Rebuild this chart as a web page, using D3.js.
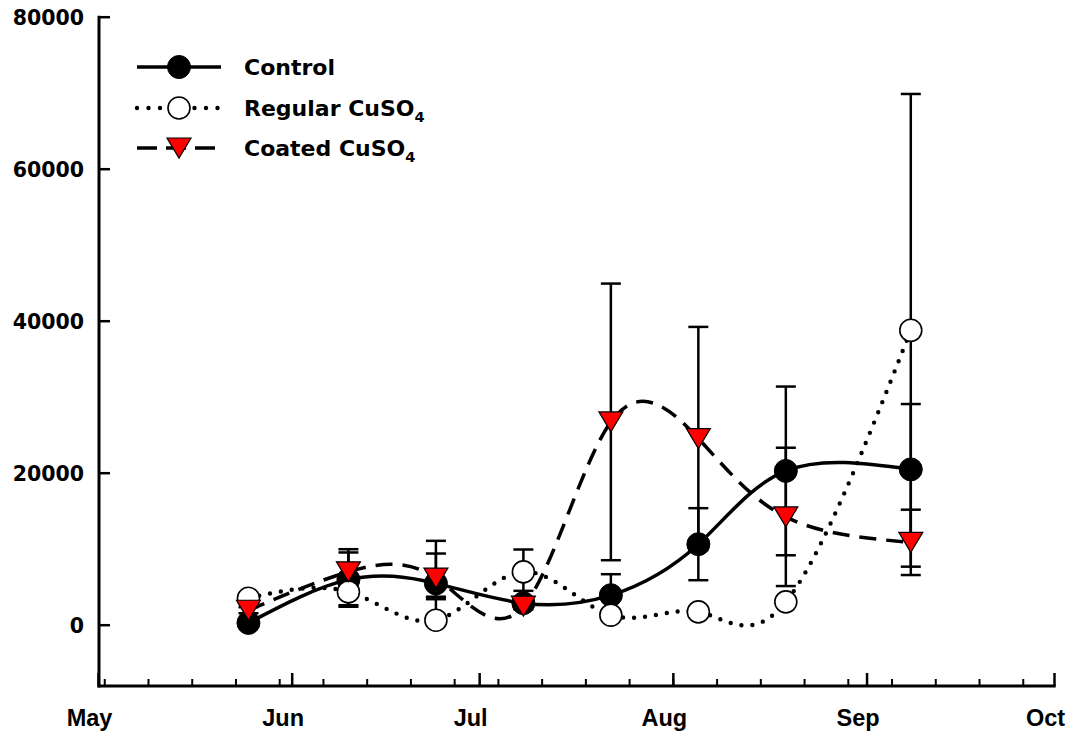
<!DOCTYPE html>
<html>
<head>
<meta charset="utf-8">
<script src="https://cdn.jsdelivr.net/npm/d3@7"></script>
<style>
  html, body { margin: 0; padding: 0; background: #fff; }
  svg { display: block; }
</style>
</head>
<body>
<svg id="chart" width="1079" height="734"></svg>
<script>
// Sampling dates (every two weeks, last one after 20 days)
const sampleDates = ["2010-05-25", "2010-06-10", "2010-06-24", "2010-07-08",
                     "2010-07-22", "2010-08-05", "2010-08-19", "2010-09-08"];

// Mean values per treatment
const controlMean = [300, 6000, 5500, 2900, 3950, 10660, 20300, 20500];
const regularMean = [3550, 4380, 660, 7020, 1320, 1750, 3070, 38800];
const coatedMean  = [1970, 7020, 6200, 2500, 26750, 24560, 14250, 10900];

// Error bar extents above / below each mean
const controlErrUp   = [400, 3570, 3930, 500, 2760, 4740, 11100, 8600];
const controlErrDown = [400, 3570, 1780, 500, 2760, 4740, 11100, 8600];
const regularErrUp   = [450, 1750, 3060, 2940, 300, 300, 400, 31100];
const regularErrDown = [450, 1750, 400, 2500, 300, 300, 400, 31100];
const coatedErrUp    = [400, 2980, 4900, 400, 18200, 14690, 9100, 4300];
const coatedErrDown  = [400, 2980, 2780, 400, 18200, 14690, 9100, 4300];

// Axis ticks
const yTickValues = [0, 20000, 40000, 60000, 80000];
const monthTickDates = ["2010-05-01", "2010-06-01", "2010-07-01", "2010-08-01", "2010-09-01", "2010-10-01"];
const monthTickLabels = ["May", "Jun", "Jul", "Aug", "Sep", "Oct"];

const seriesNames = ["Control", "Regular CuSO", "Coated CuSO"];
const seriesSubs  = ["", "4", "4"];

const parse = d3.timeParse("%Y-%m-%d");
const dates = sampleDates.map(parse);

const svg = d3.select("#chart");

const x = d3.scaleTime()
  .domain([parse("2010-05-01"), parse("2010-10-01")])
  .range([98.5, 1054.5]);
const y = d3.scaleLinear()
  .domain([-8000, 80000])
  .range([686, 17.2]);

const series = [
  { name: "control", mean: controlMean, up: controlErrUp, down: controlErrDown,
    marker: "filled", dash: null, width: 3.5 },
  { name: "regular", mean: regularMean, up: regularErrUp, down: regularErrDown,
    marker: "open", dash: "0,11", width: 4.4 },
  { name: "coated", mean: coatedMean, up: coatedErrUp, down: coatedErrDown,
    marker: "triangle", dash: "17,10", width: 3.5 }
];

// ---- axes ----
const axisG = svg.append("g");
// Y axis
axisG.append("line")
  .attr("x1", 99).attr("x2", 99)
  .attr("y1", y(80000) - 1.5).attr("y2", 687.5)
  .attr("stroke", "#000").attr("stroke-width", 3);
axisG.selectAll(".ytick").data(yTickValues).enter().append("line")
  .attr("x1", 99).attr("x2", 110)
  .attr("y1", d => y(d)).attr("y2", d => y(d))
  .attr("stroke", "#000").attr("stroke-width", 2.5);
axisG.selectAll(".ylab").data(yTickValues).enter().append("text")
  .attr("x", 84).attr("y", d => y(d) + 7.5)
  .attr("text-anchor", "end")
  .attr("font-family", "DejaVu Sans, sans-serif")
  .attr("font-weight", "bold")
  .attr("font-size", 20.5)
  .text(d => d);

// X axis
axisG.append("line")
  .attr("x1", 97.5).attr("x2", x.range()[1] + 1.2)
  .attr("y1", 686).attr("y2", 686)
  .attr("stroke", "#000").attr("stroke-width", 3);
const weekTicks = d3.timeSunday.range(parse("2010-05-01"), parse("2010-10-01"));
axisG.selectAll(".xminor").data(weekTicks).enter().append("line")
  .attr("x1", d => x(d)).attr("x2", d => x(d))
  .attr("y1", 686).attr("y2", 679)
  .attr("stroke", "#000").attr("stroke-width", 2);
const monthDates = monthTickDates.map(parse);
axisG.selectAll(".xmajor").data(monthDates).enter().append("line")
  .attr("x1", d => x(d)).attr("x2", d => x(d))
  .attr("y1", 686).attr("y2", 673)
  .attr("stroke", "#000").attr("stroke-width", 2.5);
axisG.selectAll(".xlab").data(monthDates).enter().append("text")
  .attr("x", d => x(d) - 9).attr("y", 726)
  .attr("text-anchor", "middle")
  .attr("font-family", "Liberation Sans, Arial, sans-serif")
  .attr("font-weight", "bold")
  .attr("font-size", 23.5)
  .text((d, i) => monthTickLabels[i]);

// ---- error bars (behind lines and markers) ----
const errG = svg.append("g");
series.forEach(s => {
  const g = errG.append("g");
  dates.forEach((d, i) => {
    const cx = x(d);
    const hi = y(s.mean[i] + s.up[i]);
    const lo = y(s.mean[i] - s.down[i]);
    g.append("line").attr("x1", cx).attr("x2", cx).attr("y1", hi).attr("y2", lo)
      .attr("stroke", "#000").attr("stroke-width", 2.5);
    [hi, lo].forEach(yy => {
      g.append("line").attr("x1", cx - 10).attr("x2", cx + 10).attr("y1", yy).attr("y2", yy)
        .attr("stroke", "#000").attr("stroke-width", 2.5);
    });
  });
});

// ---- smoothed lines ----
const line = d3.line()
  .x((d, i) => x(dates[i]))
  .y(d => y(d))
  .curve(d3.curveNatural);

const lineG = svg.append("g");
series.forEach(s => {
  lineG.append("path")
    .attr("d", line(s.mean))
    .attr("fill", "none")
    .attr("stroke", "#000")
    .attr("stroke-width", s.width)
    .attr("stroke-linecap", s.dash === "0,11" ? "round" : "butt")
    .attr("stroke-dasharray", s.dash);
});

// ---- markers ----
const triPath = (cx, cy) => {
  const w = 12, h = 10;
  return `M${cx - w},${cy - h}L${cx + w},${cy - h}L${cx},${cy + h}Z`;
};
function drawMarker(g, kind, cx, cy) {
  if (kind === "filled") {
    g.append("circle").attr("cx", cx).attr("cy", cy).attr("r", 11.5)
      .attr("fill", "#000").attr("stroke", "#000").attr("stroke-width", 1);
  } else if (kind === "open") {
    g.append("circle").attr("cx", cx).attr("cy", cy).attr("r", 11)
      .attr("fill", "#fff").attr("stroke", "#000").attr("stroke-width", 1.6);
  } else {
    g.append("path").attr("d", triPath(cx, cy))
      .attr("fill", "#ff0000").attr("stroke", "#000").attr("stroke-width", 1.2)
      .attr("stroke-linejoin", "miter");
  }
}
const markG = svg.append("g");
series.forEach(s => {
  const g = markG.append("g");
  dates.forEach((d, i) => drawMarker(g, s.marker, x(d), y(s.mean[i])));
});

// ---- legend ----
const legendRows = [67, 108, 148];
const legG = svg.append("g");
series.forEach((s, i) => {
  const ry = legendRows[i];
  legG.append("line")
    .attr("x1", 137).attr("x2", 221).attr("y1", ry).attr("y2", ry)
    .attr("stroke", "#000").attr("stroke-width", s.width)
    .attr("stroke-linecap", s.dash === "0,11" ? "round" : "butt")
    .attr("stroke-dasharray", s.dash === "0,11" ? "0,11.5" : (s.dash ? "20,9" : null));
  drawMarker(legG, s.marker, 179, ry);
  const t = legG.append("text")
    .attr("x", 244).attr("y", ry + 8)
    .attr("font-family", "DejaVu Sans, sans-serif")
    .attr("font-weight", "bold")
    .attr("font-size", 22);
  t.append("tspan").text(seriesNames[i]);
  if (seriesSubs[i]) {
    t.append("tspan").attr("dy", 6).attr("font-size", 14.5).text(seriesSubs[i]);
  }
});
</script>
</body>
</html>
